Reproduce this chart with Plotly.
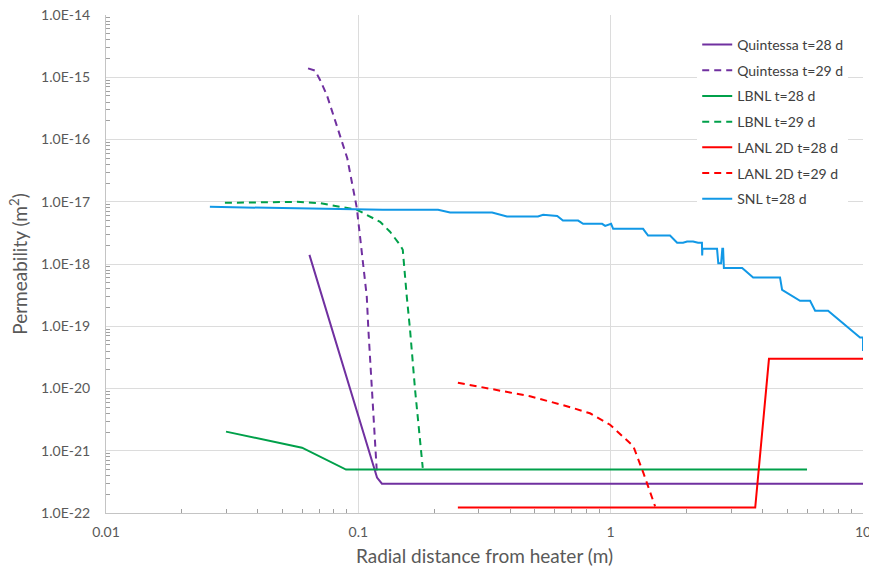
import plotly.graph_objects as go

# ---- data ----
q28_x = [0.064, 0.1186, 0.124, 10]
q28_y = [1.4e-18, 3.7e-22, 2.96e-22, 2.96e-22]

q29_x = [0.0632, 0.0674, 0.0705, 0.075, 0.0796, 0.0846, 0.0904, 0.0986, 0.108, 0.1096, 0.113, 0.1183]
q29_y = [1.39e-15, 1.28e-15, 9.05e-16, 5.2e-16, 2.48e-16, 1.19e-16, 5.0e-17, 8.0e-18, 3.0e-19, 8.8e-20, 9.6e-21, 4.8e-22]

lb28_x = [0.0299, 0.0598, 0.0894, 6.0]
lb28_y = [2.03e-21, 1.12e-21, 4.98e-22, 4.98e-22]

lb29_x = [0.0296, 0.0571, 0.0705, 0.0846, 0.0989, 0.122, 0.1335, 0.1463, 0.150, 0.1556, 0.1603, 0.1678, 0.1756, 0.180]
lb29_y = [9.6e-18, 9.96e-18, 9.5e-18, 8.4e-18, 7.4e-18, 4.76e-18, 3.3e-18, 2.03e-18, 1.69e-18, 3.0e-19, 8.8e-20, 9.6e-21, 1.5e-21, 5.3e-22]

la28_x = [0.248, 3.74, 4.24, 10]
la28_y = [1.22e-22, 1.22e-22, 3.0e-20, 3.0e-20]

la29_x = [0.248, 0.364, 0.479, 0.670, 0.828, 0.9945, 1.23, 1.348, 1.50]
la29_y = [1.24e-20, 9.3e-21, 7.5e-21, 5.2e-21, 4.0e-21, 2.62e-21, 1.18e-21, 4.4e-22, 1.28e-22]

snl_x = [0.0258, 0.0989, 0.125, 0.207, 0.231, 0.339, 0.388, 0.515, 0.540, 0.614, 0.647, 0.743,
         0.778, 0.925, 0.951, 1.004, 1.023, 1.344, 1.407, 1.719, 1.834, 1.936, 2.009, 2.122,
         2.22, 2.30, 2.305, 2.31, 2.37, 2.64, 2.67, 2.74, 2.77, 2.79, 2.81, 2.84, 3.32, 3.67,
         4.69, 4.78, 5.63, 6.17, 6.46, 7.27, 9.73, 10.0, 10.0]
snl_y = [8.28e-18, 7.69e-18, 7.41e-18, 7.41e-18, 6.71e-18, 6.71e-18, 5.78e-18, 5.78e-18, 6.16e-18,
         5.9e-18, 4.99e-18, 4.99e-18, 4.42e-18, 4.42e-18, 4.10e-18, 4.42e-18, 3.67e-18, 3.67e-18,
         2.87e-18, 2.87e-18, 2.19e-18, 2.19e-18, 2.30e-18, 2.30e-18, 2.19e-18, 2.19e-18, 1.37e-18,
         1.75e-18, 1.75e-18, 1.75e-18, 1.03e-18, 1.03e-18, 1.75e-18, 1.75e-18, 8.59e-19, 8.59e-19,
         8.59e-19, 6.07e-19, 6.07e-19, 3.85e-19, 2.57e-19, 2.57e-19, 1.77e-19, 1.77e-19, 6.61e-20,
         6.61e-20, 4.0e-20]

y_ticks = [1e-22, 1e-21, 1e-20, 1e-19, 1e-18, 1e-17, 1e-16, 1e-15, 1e-14]
y_labels = ["1.0E-22", "1.0E-21", "1.0E-20", "1.0E-19", "1.0E-18", "1.0E-17", "1.0E-16", "1.0E-15", "1.0E-14"]
x_ticks = [0.01, 0.1, 1, 10]
x_labels = ["0.01", "0.1", "1", "10"]

# minor tick positions (2..9 within each decade)
x_minor = [d * m for d in x_ticks[:-1] for m in range(2, 10)]
y_minor = [d * m for d in y_ticks[:-1] for m in range(2, 10)]

PURPLE = "#7030A0"
GREEN = "#00A04A"
RED = "#FF0000"
BLUE = "#1198E6"
DASH = "7px,5px"

series = [
    ("Quintessa t=28 d", q28_x, q28_y, PURPLE, "solid"),
    ("Quintessa t=29 d", q29_x, q29_y, PURPLE, DASH),
    ("LBNL t=28 d", lb28_x, lb28_y, GREEN, "solid"),
    ("LBNL t=29 d", lb29_x, lb29_y, GREEN, DASH),
    ("LANL 2D t=28 d", la28_x, la28_y, RED, "solid"),
    ("LANL 2D t=29 d", la29_x, la29_y, RED, DASH),
    ("SNL t=28 d", snl_x, snl_y, BLUE, "solid"),
]

fig = go.Figure()
for i, (name, xs, ys, col, dash) in enumerate(series):
    fig.add_trace(go.Scatter(x=xs, y=ys, mode="lines", name=name, legendgroup=f"g{i}",
                             line=dict(color=col, width=2, dash=dash)))

FONT = "Lato, 'Open Sans', sans-serif"
GRID = "#dcdcdc"
fig.update_layout(
    width=869, height=572,
    margin=dict(l=106, r=6, t=15, b=59, autoexpand=False),
    paper_bgcolor="white", plot_bgcolor="white",
    font=dict(family=FONT, color="#595959", size=14),
    showlegend=True,
    legend=dict(x=0.781, y=0.972, xanchor="left", yanchor="top",
                bgcolor="white", borderwidth=0, tracegroupgap=4.5,
                font=dict(family=FONT, size=14, color="#404040")),
    xaxis=dict(type="log", range=[-2, 1], tickvals=x_ticks, ticktext=x_labels,
               automargin=False,
               showgrid=True, gridcolor=GRID, gridwidth=1,
               showline=True, linecolor="#c4c4c4", linewidth=1,
               ticks="", ticklabelstandoff=6, ticklabeloverflow="allow",
               tickfont=dict(size=14, color="#595959"),
               minor=dict(tickmode="array", tickvals=x_minor, ticks="inside", ticklen=4,
                          tickcolor="#a0a0a0", tickwidth=1, showgrid=False),
               title=dict(text="Radial distance from heater (m)", font=dict(size=19, color="#595959"), standoff=10),
               zeroline=False),
    yaxis=dict(type="log", range=[-22, -14], tickvals=y_ticks, ticktext=y_labels,
               automargin=False,
               showgrid=True, gridcolor=GRID, gridwidth=1,
               showline=True, linecolor="#c4c4c4", linewidth=1,
               ticks="", ticklabelstandoff=12, ticklabeloverflow="allow",
               tickfont=dict(size=14, color="#595959"),
               minor=dict(tickmode="array", tickvals=y_minor, ticks="inside", ticklen=4,
                          tickcolor="#a0a0a0", tickwidth=1, showgrid=False),
               title=dict(text="Permeability (m<sup>2</sup>)", font=dict(size=19, color="#595959"), standoff=8),
               zeroline=False),
)

fig.write_html("out.html")
